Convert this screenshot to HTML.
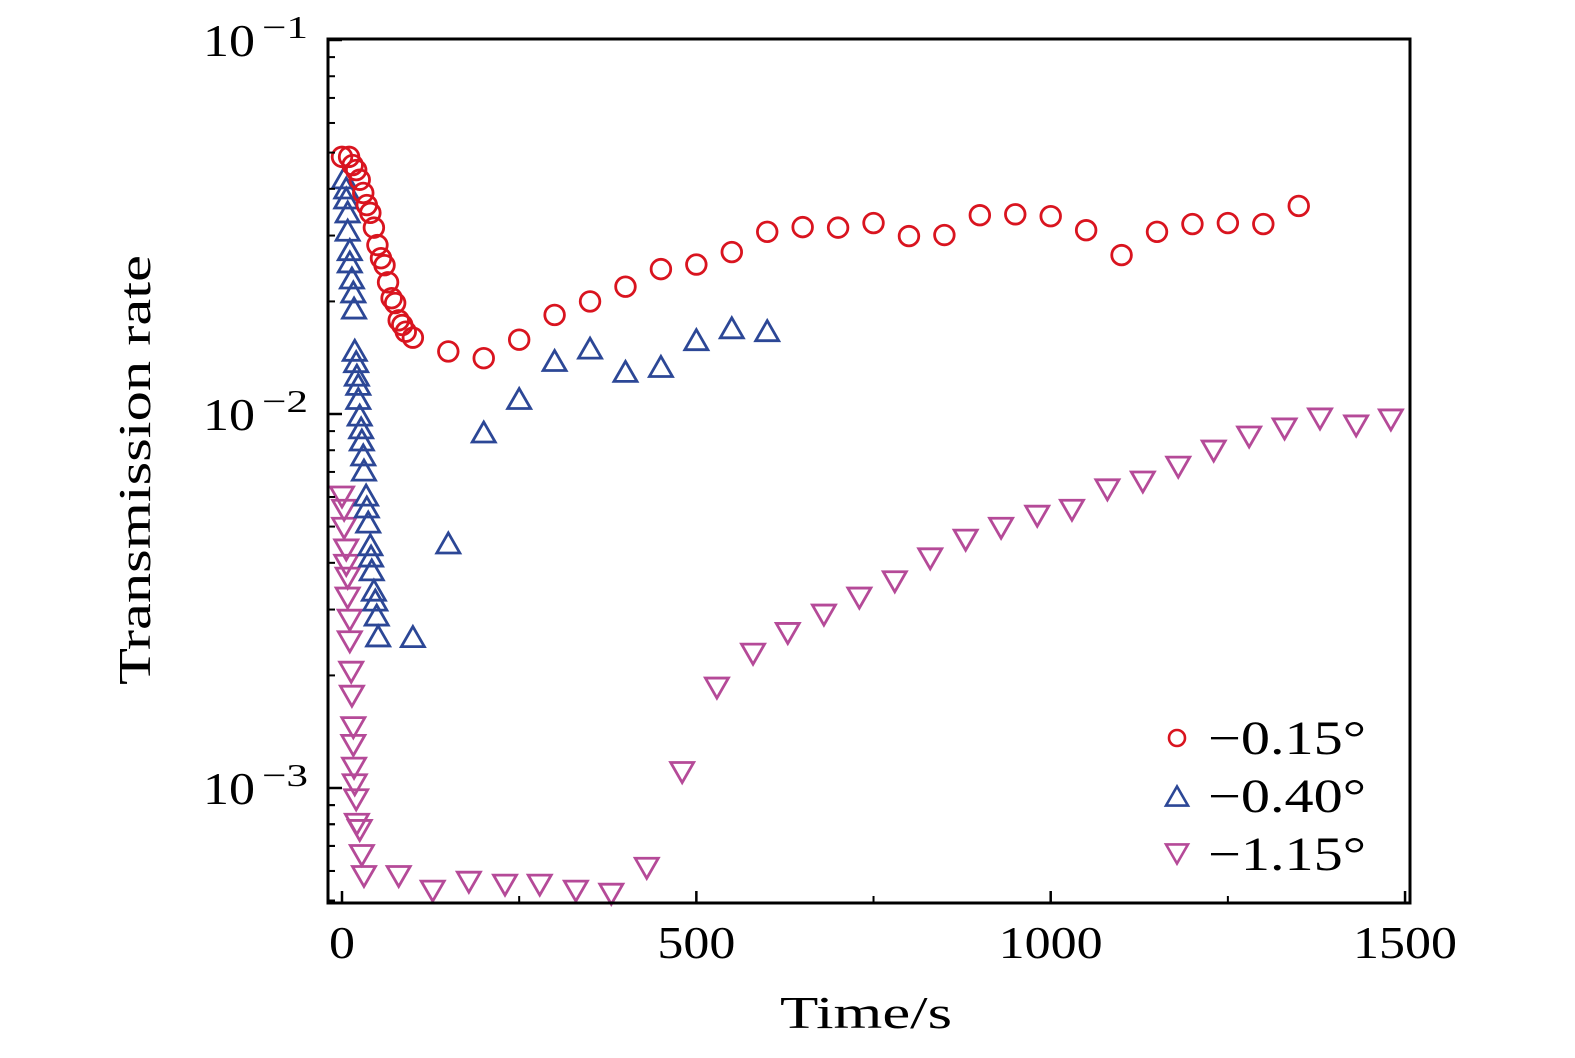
<!DOCTYPE html>
<html><head><meta charset="utf-8"><style>
body{margin:0;background:#fff;}
svg text{font-family:"Liberation Serif",serif;fill:#000;}
</style></head><body>
<svg id="chart" width="1575" height="1053" xmlns="http://www.w3.org/2000/svg">
<g id="marks"></g>
<g id="axes"></g>
</svg>
<script>
const redTime=[0,10,15,20,25,30,35,40,45,50,55,60,65,70,75,80,85,90,100,150,200,250,300,350,400,450,500,550,600,650,700,750,800,850,900,950,1000,1050,1100,1150,1200,1250,1300,1350];
const redRate=[0.0487,0.0487,0.0463,0.0449,0.0423,0.039,0.0362,0.0345,0.0315,0.0283,0.0261,0.025,0.0225,0.0204,0.0198,0.0178,0.0173,0.0166,0.016,0.0147,0.0141,0.0158,0.0184,0.02,0.0219,0.0244,0.0251,0.0271,0.0307,0.0316,0.0315,0.0324,0.0299,0.0301,0.034,0.0342,0.0338,0.031,0.0266,0.0307,0.0322,0.0324,0.0322,0.036];
const blueTime=[3,6,6,8,8,11,11,14,16,17,18,20,21,23,23,25,27,28,30,31,34,35,37,40,41,42,45,47,49,51,100,150,200,250,300,350,400,450,500,550,600];
const blueRate=[0.0428,0.0402,0.0378,0.0347,0.031,0.0275,0.0255,0.0231,0.0212,0.0192,0.0148,0.0138,0.0127,0.012,0.011,0.00993,0.00918,0.00852,0.00777,0.00708,0.00607,0.00564,0.00514,0.00447,0.00417,0.00383,0.00338,0.00318,0.0029,0.00255,0.00254,0.00452,0.00895,0.011,0.0139,0.015,0.013,0.0134,0.0158,0.017,0.0167];
const magTime=[0,3,3,6,6,8,8,11,11,13,14,16,16,17,18,20,21,25,28,31,80,128,179,230,279,330,380,430,480,529,580,629,680,730,780,830,880,930,981,1030,1080,1130,1180,1230,1280,1330,1380,1431,1480];
const magRate=[0.006,0.00553,0.00495,0.00433,0.00394,0.00364,0.00322,0.00281,0.00246,0.00204,0.00176,0.00145,0.0013,0.00113,0.00102,0.00093,0.0008,0.00077,0.00066,0.00058,0.00058,0.00053,0.00056,0.00055,0.00055,0.00053,0.00052,0.00061,0.0011,0.00185,0.00228,0.00259,0.0029,0.00322,0.00356,0.0041,0.0046,0.00495,0.00533,0.00553,0.00627,0.00658,0.00721,0.00796,0.00868,0.00912,0.0097,0.00929,0.00964];
const xTicks=[0,500,1000,1500];
const xMinor=[250,750,1250];
const yExp=[-1,-2,-3];

const L=328,R=1410,T=39,B=903;
const X=t=>342+t*0.7087;
const Y=v=>40-(Math.log10(v)+1)*374;
const NS='http://www.w3.org/2000/svg';
const marks=document.getElementById('marks'), axes=document.getElementById('axes');
function mk(tag,attrs,parent){const e=document.createElementNS(NS,tag);for(const k in attrs)e.setAttribute(k,attrs[k]);parent.appendChild(e);return e;}
const RED='#d9141f',BLUE='#2c4796',MAG='#b54a98';
function tri(cx,cy,s,down){const h=s*0.87;return down?`${cx-s/2},${cy-h/2} ${cx+s/2},${cy-h/2} ${cx},${cy+h/2}`:`${cx-s/2},${cy+h/2} ${cx+s/2},${cy+h/2} ${cx},${cy-h/2}`;}
magTime.forEach((t,i)=>{const p=mk('polygon',{points:tri(X(t),Y(magRate[i]),23,true),fill:'none',stroke:MAG,'stroke-width':2.8},marks);

});
blueTime.forEach((t,i)=>{const p=mk('polygon',{points:tri(X(t),Y(blueRate[i]),23,false),fill:'none',stroke:BLUE,'stroke-width':2.8},marks);

});
redTime.forEach((t,i)=>{const p=mk('circle',{cx:X(t),cy:Y(redRate[i]),r:9.8,fill:'none',stroke:RED,'stroke-width':2.8},marks);

});

const frame=mk('rect',{x:L,y:T,width:R-L,height:B-T,fill:'none',stroke:'#000','stroke-width':3},axes);


xTicks.forEach(t=>{const x=X(t);mk('line',{x1:x,x2:x,y1:B,y2:B-12,stroke:'#000','stroke-width':2.5},axes);
const tx=mk('text',{x:x,y:958,'text-anchor':'middle','font-size':46,textLength:String(t).length*26,lengthAdjust:'spacingAndGlyphs'},axes);tx.textContent=t;

});
xMinor.forEach(t=>{const x=X(t);mk('line',{x1:x,x2:x,y1:B,y2:B-7,stroke:'#000','stroke-width':2},axes);});
yExp.forEach(e=>{const y=Y(Math.pow(10,e));mk('line',{x1:L,x2:L+14,y1:y,y2:y,stroke:'#000','stroke-width':2.5},axes);
const tx=mk('text',{x:203,y:y+16,'font-size':46,textLength:52,lengthAdjust:'spacingAndGlyphs'},axes);tx.textContent='10';


const sup=mk('text',{x:262,y:y-2,'font-size':32,textLength:46,lengthAdjust:'spacingAndGlyphs'},axes);sup.textContent='\u2212'+(-e);


for(let m=2;m<=9;m++){const v=Math.pow(10,e-1)*m;const yy=Y(v);if(yy>B||yy<T)continue;mk('line',{x1:L,x2:L+7,y1:yy,y2:yy,stroke:'#000','stroke-width':2},axes);}});
for(let m=2;m<=9;m++){const yy=Y(Math.pow(10,-4)*m);if(yy>B||yy<T)continue;mk('line',{x1:L,x2:L+7,y1:yy,y2:yy,stroke:'#000','stroke-width':2},axes);}
const xt=mk('text',{x:866,y:1028,'text-anchor':'middle','font-size':46,textLength:172,lengthAdjust:'spacingAndGlyphs'},axes);xt.textContent='Time/s';


const yt=mk('text',{x:0,y:0,'text-anchor':'middle','font-size':46,textLength:430,lengthAdjust:'spacingAndGlyphs',transform:'translate(150,470) rotate(-90)'},axes);yt.textContent='Transmission rate';


const legLabels=['\u22120.15\u00b0','\u22120.40\u00b0','\u22121.15\u00b0'];
const legY=[738,796,854];
legY.forEach((y,i)=>{
 let m;
 if(i==0)m=mk('circle',{cx:1177,cy:y,r:8,fill:'none',stroke:RED,'stroke-width':2.6},axes);
 else m=mk('polygon',{points:tri(1177,y,22,i==2),fill:'none',stroke:i==1?BLUE:MAG,'stroke-width':2.6},axes);
 
 
 const tx=mk('text',{x:1208,y:y+16,'font-size':48,textLength:158,lengthAdjust:'spacingAndGlyphs'},axes);tx.textContent=legLabels[i];
 
 
});
</script>
</body></html>
